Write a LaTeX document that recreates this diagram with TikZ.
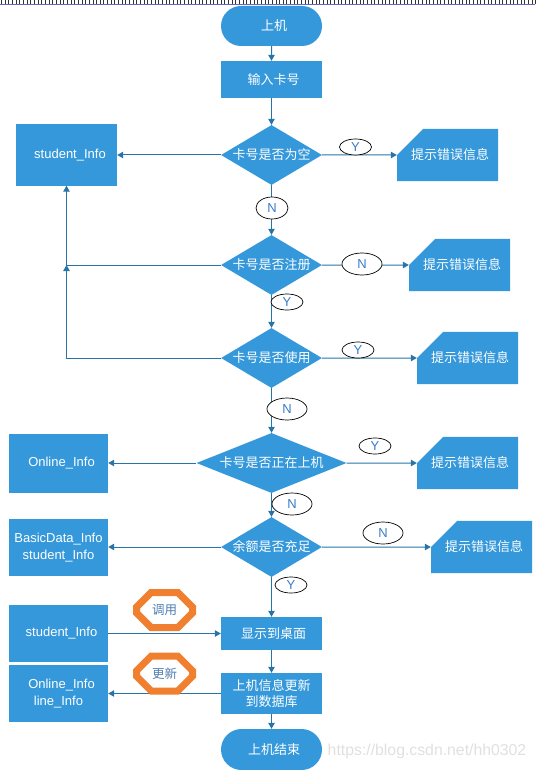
\documentclass[tikz,border=0pt]{standalone}
\usepackage{fontspec}
\setmainfont{Liberation Sans}
\newfontfamily\cjk{Noto Sans CJK SC}
\usetikzlibrary{arrows.meta,shapes.geometric,shapes.misc}
\definecolor{boxblue}{HTML}{3498DB}
\definecolor{lineblue}{HTML}{2874A6}
\definecolor{markorange}{HTML}{F0802F}
\definecolor{letterblue}{HTML}{3A7CC8}
\tikzset{
  base/.style={fill=boxblue,text=white,inner sep=0pt,align=center,font=\fontsize{13}{16.5}\selectfont},
  stepbox/.style={base,rectangle,minimum width=101pt,minimum height=#1},
  databox/.style={base,rectangle,minimum width=99pt,minimum height=#1},
  endbox/.style={base,rounded rectangle,minimum width=101pt,minimum height=#1},
  ask/.style={base,diamond,minimum width=101pt,minimum height=60pt,shape aspect=1.68},
  asklong/.style={base,diamond,minimum width=150pt,minimum height=60pt,shape aspect=2.5},
  warn/.style={base,chamfered rectangle,chamfered rectangle corners=north west,chamfered rectangle xsep=20pt,chamfered rectangle ysep=20pt,minimum width=101pt,minimum height=51pt},
  tag/.style={ellipse,draw=black,line width=.7pt,fill=white,text=letterblue,inner sep=0pt,font=\fontsize{13}{14}\selectfont},
  stop/.style={chamfered rectangle,chamfered rectangle xsep=10pt,chamfered rectangle ysep=9pt,draw=markorange,line width=7pt,fill=white,text=letterblue!70!gray,inner sep=0pt,minimum width=56pt,minimum height=35pt,font=\fontsize{12.5}{14}\selectfont},
  flow/.style={draw=lineblue,line width=1pt,-{Triangle[length=6pt,width=6.5pt]}}
}
\begin{document}
\begin{tikzpicture}[x=1pt,y=-1pt]
\useasboundingbox (0,0) rectangle (535,770);
\foreach \k in {0,...,146}{\draw[black!80,line width=1pt] ({1.5+3.66*\k},0) -- ({1.5+3.66*\k},4);}
\draw[blue!50!gray!80,line width=1pt] (0,5) -- (535,5);

\node[endbox=40pt] (start) at (271.5,26) {\cjk\hspace*{5pt}上机};
\node[stepbox=37pt] (card) at (271.5,79.5) {\cjk\hspace*{4pt}输入卡号};
\node[ask] (empty) at (271.5,155) {\cjk 卡号是否为空};
\node[ask] (reg) at (271.5,265) {\cjk 卡号是否注册};
\node[ask] (used) at (271.5,358) {\cjk 卡号是否使用};
\node[asklong] (online) at (271.5,463) {\cjk 卡号是否正在上机};
\node[ask] (money) at (271.5,547) {\cjk 余额是否充足};
\node[stepbox=33pt] (show) at (271.5,633.5) {\cjk\hspace*{4pt}显示到桌面};
\node[stepbox=41pt] (update) at (271.5,693.5) {\cjk 上机信息更新\\\cjk 到数据库};
\node[endbox=41pt] (finish) at (271.5,749.5) {\cjk\hspace*{5pt}上机结束};

\node[stepbox=61pt] (studentA) at (66.5,155) {\hspace*{7pt}student\_Info};
\node[databox=59pt] (onlineA) at (58.5,463) {\hspace*{6pt}Online\_Info};
\node[databox=57pt] (basic) at (58.5,547.5) {BasicData\_Info\\student\_Info};
\node[databox=57pt] (studentB) at (58.5,633.5) {\hspace*{6pt}student\_Info};
\node[databox=57pt] (onlineB) at (58.5,693.5) {\hspace*{6pt}Online\_Info\\line\_Info};

\node[warn] (warnA) at (447.5,155) {\cjk\hspace*{5pt}提示错误信息};
\node[warn] (warnB) at (459.5,265) {\cjk\hspace*{5pt}提示错误信息};
\node[warn] (warnC) at (467.5,358) {\cjk\hspace*{5pt}提示错误信息};
\node[warn] (warnD) at (467.5,463) {\cjk\hspace*{5pt}提示错误信息};
\node[warn] (warnE) at (481.5,547) {\cjk\hspace*{5pt}提示错误信息};

\coordinate (join) at (66.5,265);
\draw[flow] (start) -- (card);
\draw[flow] (card) -- (empty);
\draw[flow] (empty) -- (reg);
\draw[flow] (reg) -- (used);
\draw[flow] (used) -- (online);
\draw[flow] (online) -- (money);
\draw[flow] (money) -- (show);
\draw[flow] (show) -- (update);
\draw[flow] (update) -- (finish);
\draw[flow] (empty) -- (studentA);
\draw[flow] (empty) -- (warnA);
\draw[flow] (reg) -- (warnB);
\draw[flow] (used) -- (warnC);
\draw[flow] (online) -- (warnD);
\draw[flow] (money) -- (warnE);
\draw[flow] (online) -- (onlineA);
\draw[flow] (money.west) -- (basic.east |- money.west);
\draw[flow] (studentB) -- (show);
\draw[flow] (update) -- (onlineB);
\draw[flow] (reg) -- (join) -- (studentA);
\draw[flow] (used) -| (join);

\node[tag,minimum width=32pt,minimum height=16pt] (yesA) at (355.5,147) {Y};
\node[tag,minimum width=32pt,minimum height=22pt] (noA) at (272,208) {N};
\node[tag,minimum width=40pt,minimum height=22pt] (noB) at (362,264) {N};
\node[tag,minimum width=32pt,minimum height=16pt] (yesB) at (287,302) {Y};
\node[tag,minimum width=32pt,minimum height=16pt] (yesC) at (358,350) {Y};
\node[tag,minimum width=40pt,minimum height=22pt] (noC) at (287,409) {N};
\node[tag,minimum width=32pt,minimum height=16pt] (yesD) at (375,446) {Y};
\node[tag,minimum width=40pt,minimum height=22pt] (noD) at (292,504) {N};
\node[tag,minimum width=40pt,minimum height=22pt] (noE) at (383,533) {N};
\node[tag,minimum width=32pt,minimum height=16pt] (yesE) at (291,585) {Y};

\node[stop] (call) at (164.5,610) {\cjk 调用};
\node[stop] (renew) at (164.5,673.5) {\cjk 更新};
\node[text=black!12,inner sep=0pt,font=\fontsize{15.8}{18}\selectfont] (mark) at (427,751) {https://blog.csdn.net/hh0302};
\end{tikzpicture}
\end{document}
